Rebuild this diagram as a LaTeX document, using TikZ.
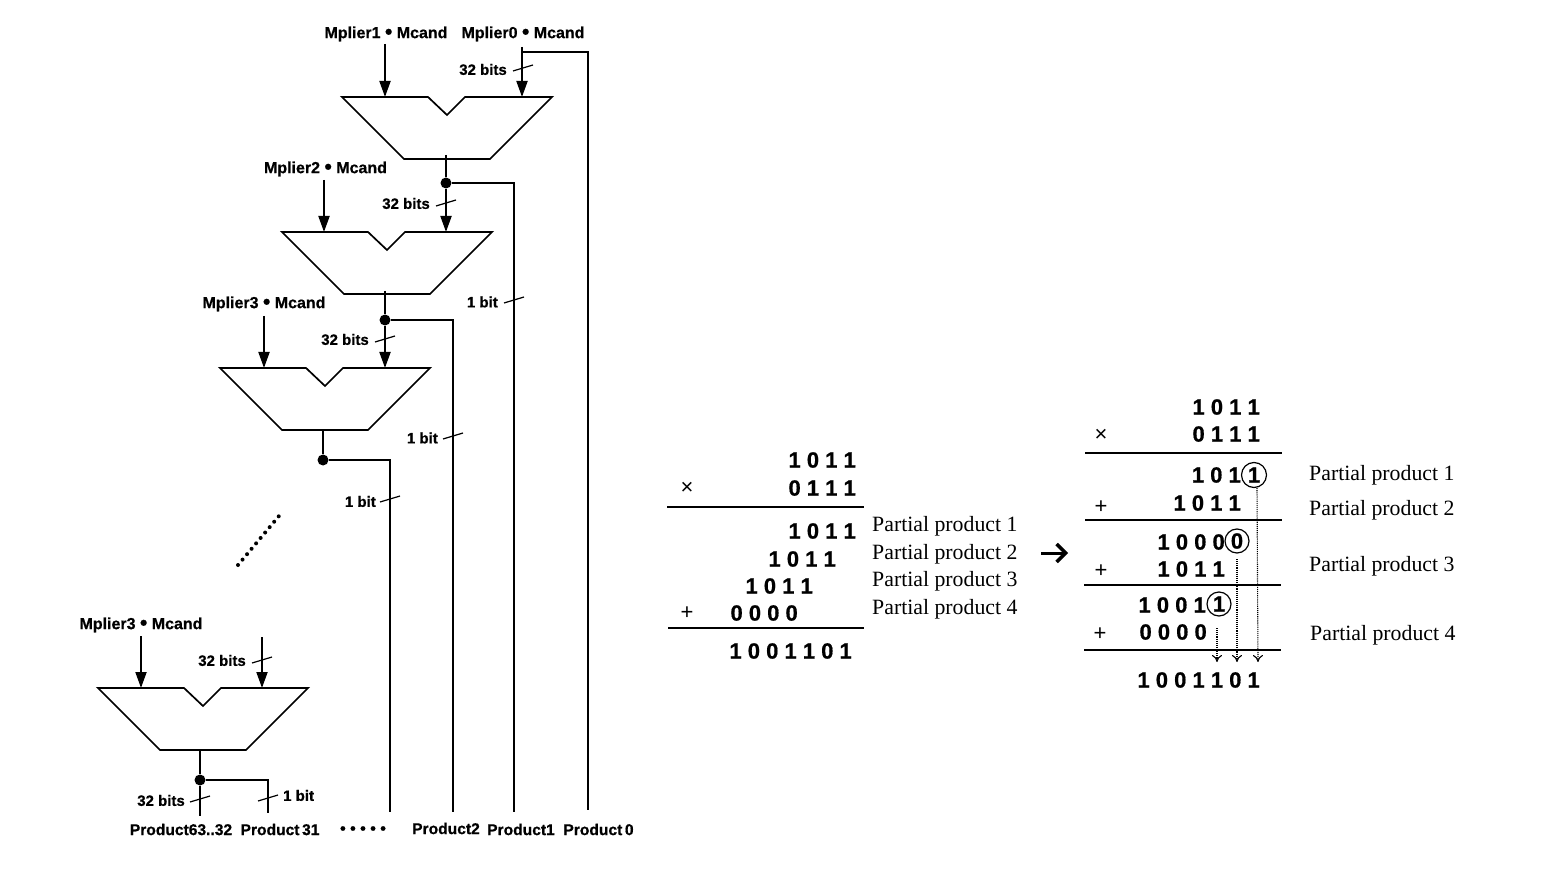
\documentclass[tikz,border=0pt]{standalone}
\usepackage{fontspec}
\setmainfont{Liberation Serif}
\newfontfamily\lblfont[BoldFont={Liberation Sans Bold},BoldFeatures={FakeBold=0.7}]{Liberation Sans}
\newfontfamily\signfont{Liberation Sans}
\usetikzlibrary{arrows.meta}
\tikzset{
 x=1pt,y=-1pt,
 wire/.style={line width=2.4pt,line cap=butt,line join=miter},
 wirethin/.style={line width=1.6pt},
 adderbox/.style={line width=1.7pt,line join=miter,fill=white},
 feed/.style={line width=1.9pt,-{Triangle[length=16pt,width=11pt]}},
 tickmark/.style={line width=1.2pt},
 lbl/.style={font=\lblfont\bfseries\fontsize{16}{18}\selectfont,inner sep=0pt},
 bitlbl/.style={font=\lblfont\bfseries\fontsize{15}{18}\selectfont,inner sep=0pt},
 prod/.style={font=\lblfont\bfseries\fontsize{15.6}{18}\selectfont,inner sep=0pt},
 digits/.style={font=\lblfont\bfseries\fontsize{22}{24}\selectfont,inner sep=0pt,anchor=east},
 ringtext/.style={font=\lblfont\bfseries\fontsize{22}{24}\selectfont},
 opsign/.style={font=\signfont\fontsize{22}{24}\selectfont,inner sep=0pt},
 pp/.style={font=\fontsize{21.8}{24}\selectfont,inner sep=0pt,anchor=west},
 rulebar/.style={line width=2pt},
 junction/.style={circle,fill=black,inner sep=0pt,minimum size=11pt},
 ringed/.style={circle,draw,line width=1.2pt,inner sep=0pt,minimum size=25pt,ringtext},
 dotarrow/.style={line width=1.1pt,densely dotted,-{To[length=7pt,width=10pt]}},
}
% name, top-left x, top y
\newcommand{\addershape}[3]{%
 \draw[adderbox] (#2,#3) -- ++(86,0) -- ++(19,18) -- ++(18,-18) -- ++(87,0) -- ++(-62,62) -- ++(-86,0) -- cycle;
}
\newcommand{\tick}[2]{\draw[tickmark] (#1-10,#2+3) -- (#1+10,#2-3);}
\newcommand{\bul}{\raisebox{-0.6pt}{\fontsize{21}{18}\selectfont •}}
\begin{document}
\begin{tikzpicture}
\useasboundingbox (0,0) rectangle (1564,874);
% input labels
\node[lbl] (m1) at (386,34) {Mplier1 \bul{} Mcand};
\node[lbl] (m0) at (523,34) {Mplier0 \bul{} Mcand};
\node[lbl] (m2) at (325.5,169) {Mplier2 \bul{} Mcand};
\node[lbl] (m3) at (264,304) {Mplier3 \bul{} Mcand};
\node[lbl] (m4) at (141,625) {Mplier3 \bul{} Mcand};
% adders
\addershape{a1}{342}{97}
\addershape{a2}{282}{232}
\addershape{a3}{220}{368}
\addershape{a4}{98}{688}
% ports
\coordinate (a1l) at (385,97); \coordinate (a1r) at (522,97); \coordinate (a1o) at (446,155);
\coordinate (a2l) at (324,232); \coordinate (a2r) at (446,232); \coordinate (a2o) at (385,291);
\coordinate (a3l) at (264,368); \coordinate (a3r) at (385,368); \coordinate (a3o) at (323,431);
\coordinate (a4l) at (141,688); \coordinate (a4r) at (262,688); \coordinate (a4o) at (200,751);
\coordinate (top0) at (522,47); \coordinate (top4) at (262,637);
\coordinate (m1s) at (385,44); \coordinate (m2s) at (324,180); \coordinate (m3s) at (264,316); \coordinate (m4s) at (141,636);
\node[junction] (j1) at (446,183) {};
\node[junction] (j2) at (385,320) {};
\node[junction] (j3) at (323,460) {};
\node[junction] (j4) at (200,780) {};
% product labels
\node[prod] (p6332) at (181,829.5) {Product63..32};
\node[prod] (p31) at (280,829.5) {Product\,31};
\node[lbl] (pdots) at (363,830) {• • • • •};
\node[prod] (p2) at (446,828.5) {Product2};
\node[prod] (p1) at (521,829.5) {Product1};
\node[prod] (p0) at (598.5,829.5) {Product\,0};
\coordinate (e0) at (588,810); \coordinate (e1) at (514,812); \coordinate (e2) at (453,812);
\coordinate (e3) at (390,812); \coordinate (e31) at (268,813); \coordinate (e63) at (200,816);
% inputs
\draw[feed] (m1s) -- (a1l);
\draw[feed] (top0) -- (a1r);
\draw[feed] (m2s) -- (a2l);
\draw[feed] (j1) -- (a2r);
\draw[feed] (m3s) -- (a3l);
\draw[feed] (j2) -- (a3r);
\draw[feed] (m4s) -- (a4l);
\draw[feed] (top4) -- (a4r);
% outputs
\draw[wire] (a1o) -- (j1);
\draw[wire] (a2o) -- (j2);
\draw[wire] (a3o) -- (j3);
\draw[wire] (a4o) -- (j4);
\draw[wire] (j4) -- (e63);
\draw[wirethin] (522,52) -| (e0);
\draw[wirethin] (j1) -| (e1);
\draw[wirethin] (j2) -| (e2);
\draw[wirethin] (j3) -| (e3);
\draw[wirethin] (j4) -| (e31);
% bit labels
\node[bitlbl,anchor=east] (b0) at (507,69.5) {32 bits}; \tick{523}{68}
\node[bitlbl,anchor=east] (b1) at (430,203.5) {32 bits}; \tick{446}{203}
\node[bitlbl,anchor=east] (b2) at (369,339.5) {32 bits}; \tick{385}{339}
\node[bitlbl,anchor=east] (b4) at (246,660.5) {32 bits}; \tick{262}{660}
\node[bitlbl,anchor=east] (b6) at (185,800.5) {32 bits}; \tick{200}{799}
\node[bitlbl,anchor=east] (c1) at (498,302) {1 bit}; \tick{514}{300}
\node[bitlbl,anchor=east] (c2) at (438,438) {1 bit}; \tick{453}{436}
\node[bitlbl,anchor=east] (c3) at (376,501.5) {1 bit}; \tick{390}{499}
\node[bitlbl,anchor=west] (c4) at (283,795.5) {1 bit}; \tick{268}{798}
% dotted diagonal
\coordinate (dgA) at (238,565); \coordinate (dgB) at (279,516);
\draw[line width=4pt,line cap=round,dash pattern=on 0pt off 7.05pt] (dgA) -- (dgB);
% left sum
\node[digits] (l1) at (856,460) {1 0 1 1};
\node[digits] (l2) at (856,488) {0 1 1 1};
\node[opsign] (lx) at (687,488) {×};
\draw[rulebar] (667,507) -- (864,507);
\node[digits] (l3) at (856,531) {1 0 1 1};
\node[digits] (l4) at (836,559) {1 0 1 1};
\node[digits] (l5) at (813,586) {1 0 1 1};
\node[digits] (l6) at (798,613) {0 0 0 0};
\node[opsign] (lp) at (687,613) {+};
\draw[rulebar] (668,628) -- (864,628);
\node[digits] (l7) at (852,651) {1 0 0 1 1 0 1};
\node[pp] (q1) at (872,526) {Partial product 1};
\node[pp] (q2) at (872,554) {Partial product 2};
\node[pp] (q3) at (872,581) {Partial product 3};
\node[pp] (q4) at (872,609) {Partial product 4};
% big arrow
\coordinate (ba) at (1041,553); \coordinate (bb) at (1068,553);
\draw[line width=3pt,-{Straight Barb[length=9pt,width=18pt,line width=3.4pt]}] (ba) -- (bb);
% right sum
\node[digits] (r1) at (1260,407) {1 0 1 1};
\node[digits] (r2) at (1260,434) {0 1 1 1};
\node[opsign] (rx) at (1101,435) {×};
\draw[rulebar] (1085,453) -- (1282,453);
\node[digits] (r3) at (1241,475) {1 0 1};
\node[ringed] (c1r) at (1254,475) {1};
\node[digits] (r4) at (1241,503) {1 0 1 1};
\node[opsign] (rp1) at (1101,507) {+};
\draw[rulebar] (1085,520) -- (1282,520);
\node[digits] (r5) at (1225,542) {1 0 0 0};
\node[ringed,minimum size=24pt] (c2r) at (1237,541) {0};
\node[digits] (r6) at (1225,569) {1 0 1 1};
\node[opsign] (rp2) at (1101,571) {+};
\draw[rulebar] (1084,585) -- (1281,585);
\node[digits] (r7) at (1206,605) {1 0 0 1};
\node[ringed,minimum size=24pt] (c3r) at (1219,604) {1};
\node[digits] (r8) at (1207,632) {0 0 0 0};
\node[opsign] (rp3) at (1100,634) {+};
\draw[rulebar] (1084,650) -- (1281,650);
\node[digits] (r9) at (1260,680) {1 0 0 1 1 0 1};
\coordinate (s1) at (1217,628); \coordinate (s2) at (1237,559);
\coordinate (t1) at (1217,662); \coordinate (t2) at (1237,662); \coordinate (t3) at (1258,662);
\draw[dotarrow] (s1) -- (t1);
\draw[dotarrow] (s2) -- (t2);
\draw[dotarrow] (c1r.south) ++(3,0) -- (t3);
\node[pp] (w1) at (1309,475) {Partial product 1};
\node[pp] (w2) at (1309,510) {Partial product 2};
\node[pp] (w3) at (1309,566) {Partial product 3};
\node[pp] (w4) at (1310,635) {Partial product 4};
\end{tikzpicture}
\end{document}
